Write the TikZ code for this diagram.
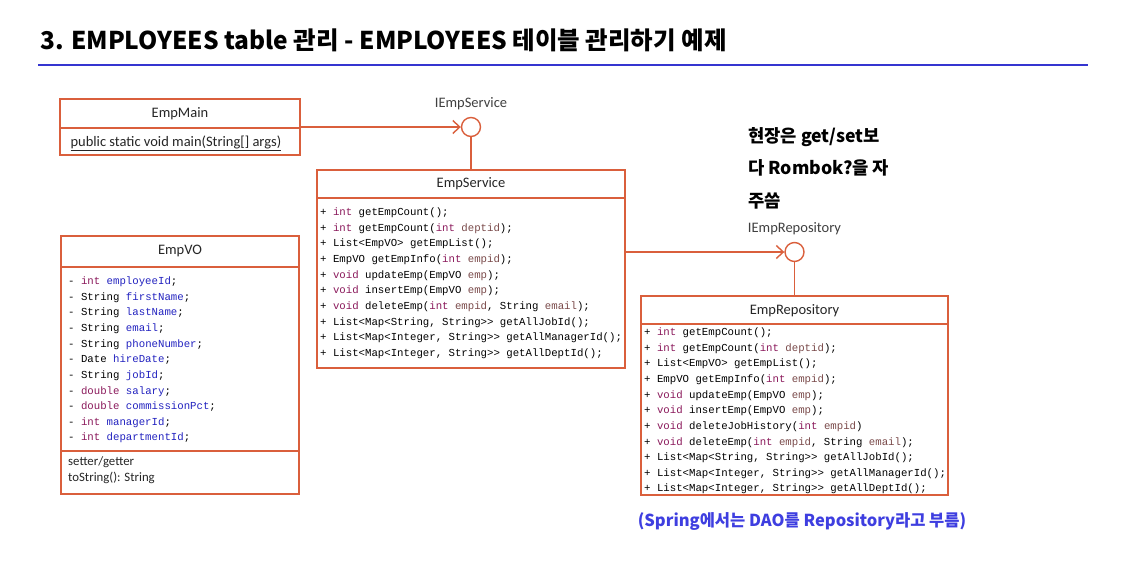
\documentclass[tikz,border=0pt]{standalone}
\usepackage{fontspec}
\usetikzlibrary{arrows.meta}
\setmainfont{Carlito}
\setmonofont{Liberation Mono}
\newfontfamily\kr{Noto Sans CJK KR}
\definecolor{umlred}{HTML}{DA5F3C}
\definecolor{kwc}{HTML}{8B1A5C}
\definecolor{fdc}{HTML}{2323C0}
\definecolor{pac}{HTML}{7A4A4A}
\definecolor{titleline}{HTML}{3535D0}
\definecolor{notec}{HTML}{3E3EE0}
\newcommand{\kw}[1]{\textcolor{kwc}{#1}}
\newcommand{\fd}[1]{\textcolor{fdc}{#1}}
\newcommand{\pa}[1]{\textcolor{pac}{#1}}
\tikzset{
  umlbox/.style={draw=umlred, line width=1.4pt, rectangle, inner sep=0pt},
  umltitle/.style={font=\fontsize{14.5}{17}\selectfont, text=black!85},
  code/.style={font=\ttfamily\fontsize{10.7}{15.65}\selectfont, align=left, anchor=north west, inner sep=0pt},
  iface/.style={draw=umlred, line width=1.4pt, circle, minimum size=19pt, inner sep=0pt, fill=white},
  ifacelabel/.style={font=\fontsize{14.5}{17}\selectfont, text=black!75},
  conn/.style={draw=umlred, line width=1.4pt},
  realize/.style={conn, -{Straight Barb[length=7pt,width=13pt,line width=1.4pt]}},
}
\begin{document}
\begin{tikzpicture}[x=1pt,y=-1pt]
\useasboundingbox[fill=white] (0,0) rectangle (1139,571);
% title
\node[anchor=base west, inner sep=0pt, font=\kr\bfseries\fontsize{24.5}{28}\selectfont] (title) at (40,49) {3. EMPLOYEES table 관리 - EMPLOYEES 테이블 관리하기 예제};
\draw[titleline, line width=2pt] (38,65) -- (1088,65);

% EmpMain
\node[umlbox, minimum width=240pt, minimum height=56pt] (main) at (180,127) {};
\draw[umlred, line width=1.4pt] (60,128) -- (300,128);
\node[umltitle] (maint) at (180,114) {EmpMain};
\node[umltitle, anchor=west] (mainm) at (67,143) {\underline{public static void main(String[] args)}};

% IEmpService
\node[iface] (isvc) at (471,127) {};
\node[ifacelabel] (isvcl) at (471,104) {IEmpService};

% EmpService
\node[umlbox, minimum width=308pt, minimum height=198pt] (svc) at (471,269) {};
\draw[umlred, line width=1.4pt] (317,198) -- (625,198);
\node[umltitle] (svct) at (471,184) {EmpService};
\node[code] (svcm) at (320,207.5) {%
+ \kw{int} getEmpCount();\\
+ \kw{int} getEmpCount(\kw{int} \pa{deptid});\\
+ List<EmpVO> getEmpList();\\
+ EmpVO getEmpInfo(\kw{int} \pa{empid});\\
+ \kw{void} updateEmp(EmpVO \pa{emp});\\
+ \kw{void} insertEmp(EmpVO \pa{emp});\\
+ \kw{void} deleteEmp(\kw{int} \pa{empid}, String \pa{email});\\
+ List<Map<String, String>{}> getAllJobId();\\
+ List<Map<Integer, String>{}> getAllManagerId();\\
+ List<Map<Integer, String>{}> getAllDeptId();};

% IEmpRepository
\node[iface] (irepo) at (794.5,252) {};
\node[ifacelabel] (irepol) at (794.5,229) {IEmpRepository};

% EmpRepository
\node[umlbox, minimum width=307pt, minimum height=199pt] (repo) at (794.5,395.5) {};
\draw[umlred, line width=1.4pt] (641,324) -- (948,324);
\node[umltitle] (repot) at (794.5,311) {EmpRepository};
\node[code] (repom) at (644,327.5) {%
+ \kw{int} getEmpCount();\\
+ \kw{int} getEmpCount(\kw{int} \pa{deptid});\\
+ List<EmpVO> getEmpList();\\
+ EmpVO getEmpInfo(\kw{int} \pa{empid});\\
+ \kw{void} updateEmp(EmpVO \pa{emp});\\
+ \kw{void} insertEmp(EmpVO \pa{emp});\\
+ \kw{void} deleteJobHistory(\kw{int} \pa{empid})\\
+ \kw{void} deleteEmp(\kw{int} \pa{empid}, String \pa{email});\\
+ List<Map<String, String>{}> getAllJobId();\\
+ List<Map<Integer, String>{}> getAllManagerId();\\
+ List<Map<Integer, String>{}> getAllDeptId();};

% EmpVO
\node[umlbox, minimum width=238pt, minimum height=258pt] (vo) at (180,365) {};
\draw[umlred, line width=1.4pt] (61,267) -- (299,267);
\draw[umlred, line width=1.4pt] (61,451) -- (299,451);
\node[umltitle] (vot) at (180,251) {EmpVO};
\node[code] (voa) at (68,276.5) {%
- \kw{int} \fd{employeeId};\\
- String \fd{firstName};\\
- String \fd{lastName};\\
- String \fd{email};\\
- String \fd{phoneNumber};\\
- Date \fd{hireDate};\\
- String \fd{jobId};\\
- \kw{double} \fd{salary};\\
- \kw{double} \fd{commissionPct};\\
- \kw{int} \fd{managerId};\\
- \kw{int} \fd{departmentId};};
\node[font=\fontsize{12.8}{16}\selectfont, align=left, anchor=north west, inner sep=0pt, text=black!85] (vom) at (68,456) {setter/getter\\toString(): String};

% connectors
\draw[realize] (main.east) -- (isvc.west);
\draw[conn] (isvc.south) -- (svc.north);
\draw[realize] (svc.east |- irepo.west) -- (irepo.west);
\draw[conn] (irepo.south) -- (repo.north);

% notes
\node[anchor=north west, align=left, inner sep=0pt, font=\kr\bfseries\fontsize{17.7}{32.5}\selectfont] (note1) at (748,127) {현장은 get/set보\\다 Rombok?을 자\\주씀};
\node[inner sep=0pt, text=notec, font=\kr\bfseries\fontsize{16.5}{20}\selectfont] (note2) at (802,521) {(Spring에서는 DAO를 Repository라고 부름)};
\end{tikzpicture}
\end{document}
